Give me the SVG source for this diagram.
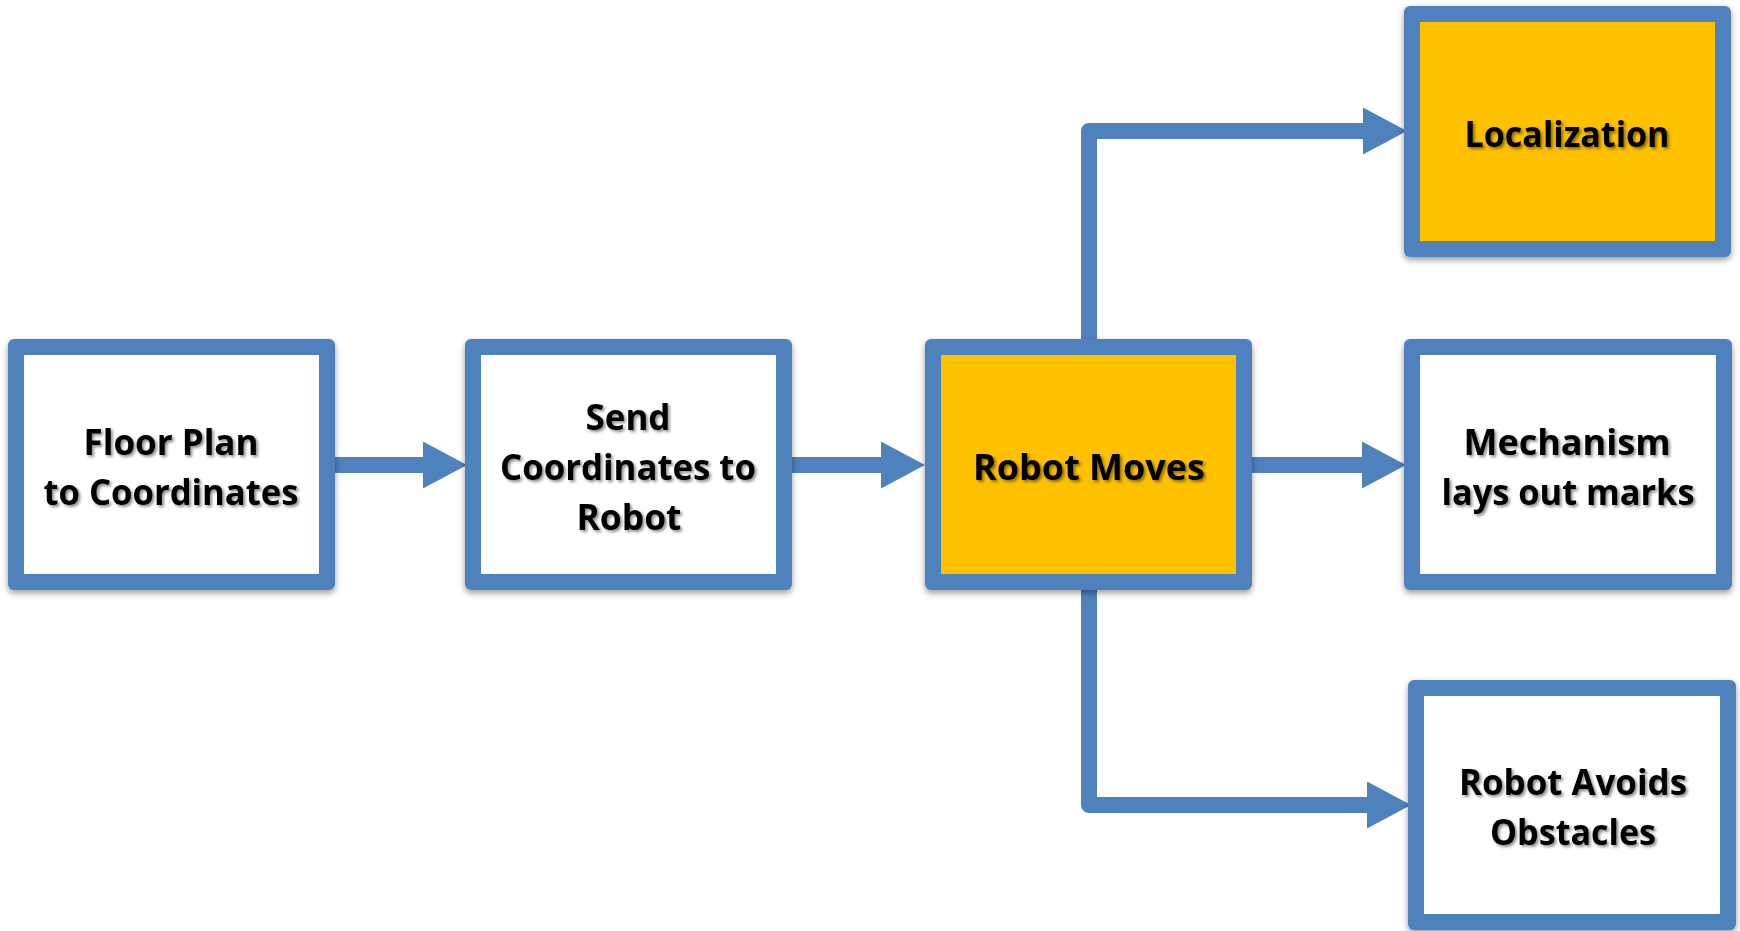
<svg xmlns="http://www.w3.org/2000/svg" width="1740" height="931" viewBox="0 0 1740 931">
  <defs>
    <style>
      .frame { fill: #4F81BD; }
      .plain { fill: #FFFFFF; }
      .hot { fill: #FFC000; }
      .label { font-family: "Open Sans", "Noto Sans", "DejaVu Sans", sans-serif; font-weight: 700; font-size: 36px; fill: #000000; text-anchor: middle; filter: url(#textShadow); }
      .wire { fill: none; stroke: #4F81BD; stroke-width: 16; stroke-linejoin: round; marker-end: url(#head); }
    </style>
    <filter id="boxShadow" x="-10%" y="-10%" width="120%" height="125%">
      <feDropShadow dx="0" dy="3" stdDeviation="3" flood-color="#000000" flood-opacity="0.4"/>
    </filter>
    <filter id="textShadow" x="-10%" y="-20%" width="120%" height="150%">
      <feDropShadow dx="2" dy="2" stdDeviation="1.5" flood-color="#000000" flood-opacity="0.45"/>
    </filter>
    <marker id="head" viewBox="0 0 44 47" refX="1" refY="23.5" markerWidth="44" markerHeight="47" markerUnits="userSpaceOnUse" orient="auto">
      <path d="M0,0 L44,23.5 L0,47 Z" fill="#4F81BD"/>
    </marker>
  </defs>

  <rect width="1740" height="931" fill="#FFFFFF"/>

  <!-- connectors -->
  <g id="connectors">
    <path class="wire" d="M335,465 H424"/>
    <path class="wire" d="M792,465 H882"/>
    <path class="wire" d="M1252,465 H1363"/>
    <path class="wire" d="M1089,339 V131 H1364"/>
    <path class="wire" d="M1089,590 V805 H1368"/>
  </g>

  <!-- nodes -->
  <g id="floor-plan" filter="url(#boxShadow)">
    <rect class="frame" x="8" y="339" width="327" height="251" rx="6"/>
    <rect class="plain" x="24" y="355" width="295" height="219"/>
    <text class="label" x="171" y="455" textLength="175" lengthAdjust="spacingAndGlyphs">Floor Plan</text>
    <text class="label" x="171" y="505" textLength="255" lengthAdjust="spacingAndGlyphs">to Coordinates</text>
  </g>

  <g id="send-coordinates" filter="url(#boxShadow)">
    <rect class="frame" x="465" y="339" width="327" height="251" rx="6"/>
    <rect class="plain" x="481" y="355" width="295" height="219"/>
    <text class="label" x="628" y="430" textLength="85" lengthAdjust="spacingAndGlyphs">Send</text>
    <text class="label" x="628" y="480" textLength="256" lengthAdjust="spacingAndGlyphs">Coordinates to</text>
    <text class="label" x="629" y="530" textLength="105" lengthAdjust="spacingAndGlyphs">Robot</text>
  </g>

  <g id="robot-moves" filter="url(#boxShadow)">
    <rect class="frame" x="925" y="339" width="327" height="251" rx="6"/>
    <rect class="hot" x="941" y="355" width="295" height="219"/>
    <text class="label" x="1089" y="480" textLength="232" lengthAdjust="spacingAndGlyphs">Robot Moves</text>
  </g>

  <g id="localization" filter="url(#boxShadow)">
    <rect class="frame" x="1404" y="6" width="327" height="251" rx="6"/>
    <rect class="hot" x="1420" y="22" width="295" height="219"/>
    <text class="label" x="1567" y="147" textLength="205" lengthAdjust="spacingAndGlyphs">Localization</text>
  </g>

  <g id="mechanism" filter="url(#boxShadow)">
    <rect class="frame" x="1404" y="339" width="328" height="251" rx="6"/>
    <rect class="plain" x="1420" y="355" width="296" height="219"/>
    <text class="label" x="1567" y="455" textLength="207" lengthAdjust="spacingAndGlyphs">Mechanism</text>
    <text class="label" x="1568" y="505" textLength="253" lengthAdjust="spacingAndGlyphs">lays out marks</text>
  </g>

  <g id="robot-avoids" filter="url(#boxShadow)">
    <rect class="frame" x="1408" y="680" width="328" height="250" rx="6"/>
    <rect class="plain" x="1424" y="696" width="296" height="218"/>
    <text class="label" x="1573" y="795" textLength="228" lengthAdjust="spacingAndGlyphs">Robot Avoids</text>
    <text class="label" x="1573" y="845" textLength="166" lengthAdjust="spacingAndGlyphs">Obstacles</text>
  </g>
</svg>
